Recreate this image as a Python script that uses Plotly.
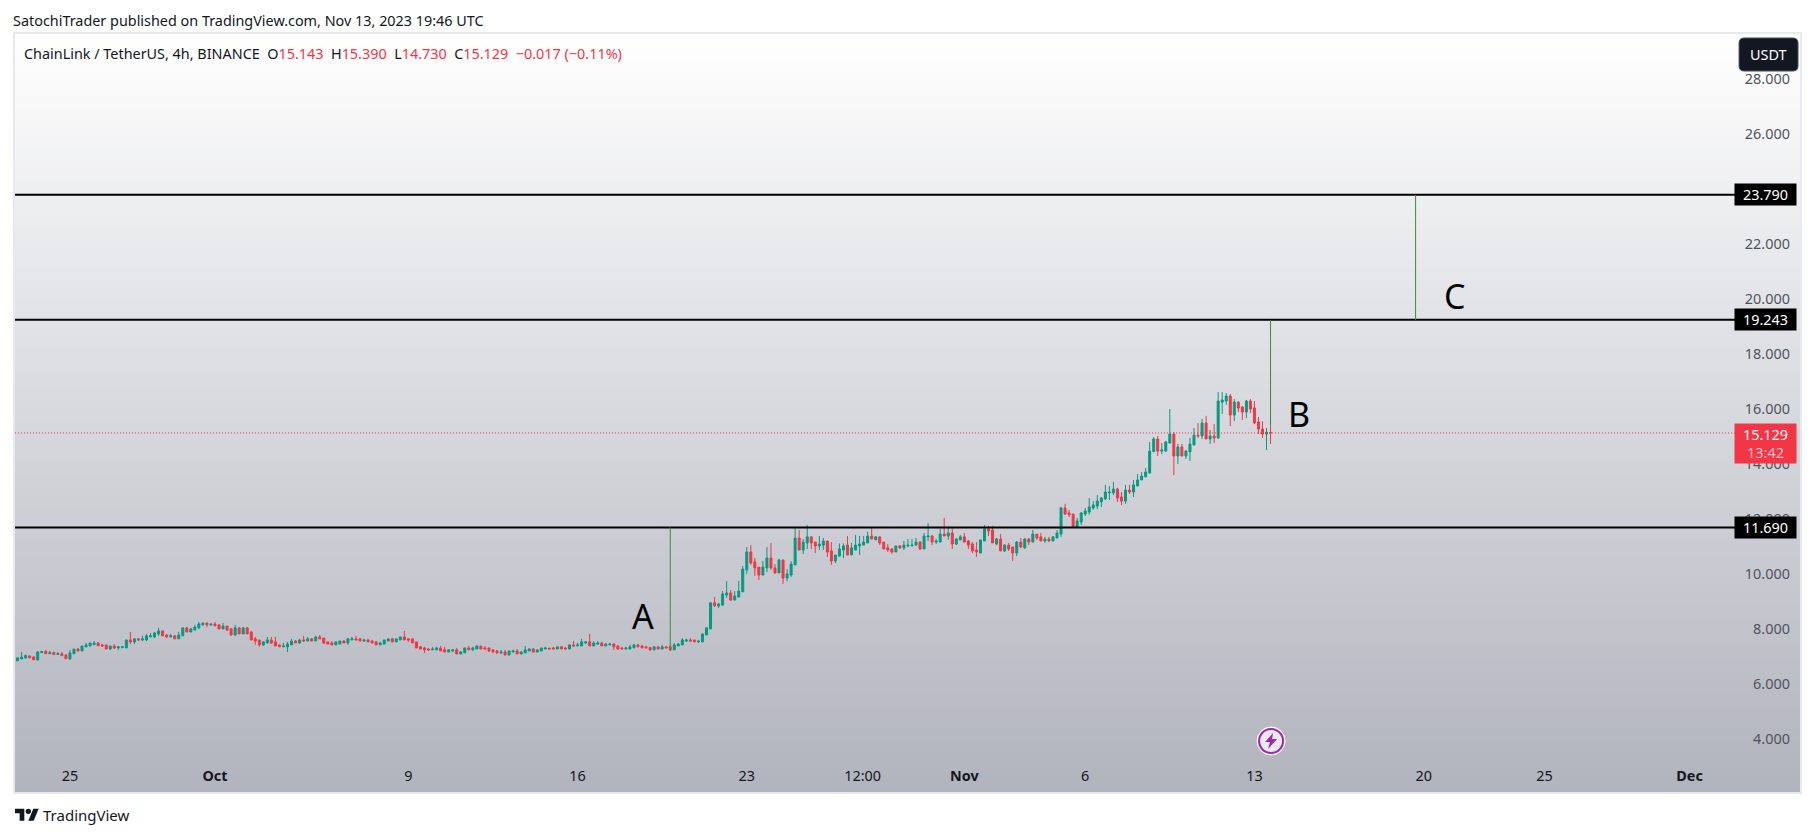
"""ChainLink / TetherUS 4h chart with A-B-C levels, TradingView look."""

import pandas as pd
import plotly.graph_objects as go

# === DATA ===
OPENS = [
    6.69,6.84,6.91,6.95,7.02,6.98,6.87,7.14,7.18,7.10,
    7.14,7.07,7.10,7.05,6.91,7.10,7.27,7.20,7.35,7.38,
    7.43,7.49,7.42,7.42,7.27,7.38,7.31,7.32,7.31,7.60,
    7.53,7.64,7.60,7.60,7.71,7.71,7.82,7.93,7.78,7.71,
    7.75,7.64,7.75,8.04,7.89,7.96,8.04,8.15,8.22,8.15,
    8.18,8.15,8.00,8.11,8.00,7.78,8.04,7.82,8.04,7.89,
    7.64,7.60,7.42,7.49,7.60,7.53,7.42,7.35,7.35,7.42,
    7.56,7.49,7.60,7.56,7.64,7.56,7.71,7.67,7.53,7.49,
    7.42,7.45,7.56,7.49,7.60,7.64,7.64,7.56,7.60,7.56,
    7.53,7.42,7.45,7.56,7.64,7.53,7.60,7.71,7.64,7.64,
    7.53,7.35,7.31,7.27,7.24,7.24,7.31,7.24,7.16,7.20,
    7.24,7.09,7.13,7.31,7.24,7.27,7.38,7.31,7.31,7.24,
    7.20,7.13,7.16,7.05,7.16,7.20,7.09,7.13,7.20,7.27,
    7.16,7.20,7.27,7.30,7.31,7.27,7.35,7.31,7.27,7.42,
    7.38,7.38,7.49,7.53,7.38,7.45,7.49,7.38,7.42,7.45,
    7.38,7.31,7.27,7.27,7.31,7.42,7.38,7.35,7.33,7.24,
    7.35,7.27,7.35,7.35,7.24,7.38,7.42,7.56,7.60,7.60,
    7.53,7.53,7.78,8.00,8.95,8.84,8.87,9.24,9.31,9.05,
    9.16,9.35,10.15,10.80,10.44,10.25,9.96,10.22,10.58,10.22,
    10.04,10.51,9.85,9.96,10.33,11.31,10.87,11.13,11.35,11.16,
    11.02,11.05,11.20,10.84,10.47,10.65,10.87,11.05,10.69,10.87,
    11.02,11.05,11.13,11.38,11.24,11.35,11.16,10.95,10.91,10.80,
    11.02,10.95,11.02,11.02,11.05,11.16,10.91,11.35,11.38,11.16,
    11.16,11.45,11.38,11.49,11.09,11.24,11.35,11.20,11.09,10.87,
    10.76,11.20,11.64,11.60,11.09,11.27,10.84,11.05,10.98,10.76,
    11.16,10.95,11.27,11.16,11.45,11.35,11.20,11.27,11.20,11.31,
    11.45,12.40,12.22,12.18,11.71,11.89,12.18,12.25,12.40,12.47,
    12.62,12.73,12.95,12.95,13.09,12.80,12.65,13.05,12.98,13.20,
    13.42,13.53,13.67,14.45,14.91,14.47,14.47,14.76,15.09,14.29,
    14.62,14.29,14.44,14.69,15.05,15.02,15.49,14.91,15.02,14.95,
    16.25,16.29,16.47,15.78,16.25,16.07,15.89,16.29,16.04,15.53,
    15.27,15.09,15.143,
]
HIGHS = [
    6.87,6.95,7.16,7.07,7.02,7.02,7.20,7.20,7.24,7.20,
    7.18,7.16,7.16,7.09,7.24,7.27,7.31,7.38,7.49,7.49,
    7.56,7.53,7.45,7.42,7.38,7.45,7.38,7.38,7.60,7.89,
    7.67,7.67,7.75,7.82,7.85,7.89,8.04,7.93,7.82,7.82,
    7.78,7.89,8.04,8.07,8.04,8.15,8.25,8.22,8.22,8.18,
    8.25,8.15,8.22,8.11,8.04,8.15,8.04,8.07,8.07,7.93,
    7.71,7.60,7.56,7.71,7.71,7.71,7.42,7.49,7.53,7.64,
    7.60,7.64,7.75,7.71,7.67,7.75,7.78,7.67,7.53,7.56,
    7.53,7.56,7.60,7.67,7.71,7.75,7.67,7.64,7.64,7.60,
    7.56,7.53,7.60,7.64,7.67,7.64,7.71,7.93,7.67,7.64,
    7.53,7.38,7.35,7.31,7.35,7.35,7.38,7.35,7.27,7.27,
    7.31,7.20,7.31,7.38,7.35,7.42,7.38,7.38,7.31,7.27,
    7.24,7.24,7.24,7.20,7.24,7.27,7.20,7.38,7.31,7.31,
    7.24,7.31,7.35,7.30,7.35,7.35,7.38,7.35,7.45,7.56,
    7.49,7.64,7.56,7.82,7.56,7.56,7.53,7.49,7.49,7.49,
    7.42,7.35,7.35,7.42,7.45,7.45,7.42,7.38,7.33,7.35,
    7.35,7.42,7.38,7.42,7.49,7.49,7.67,7.64,7.67,7.60,
    7.60,7.82,8.07,8.95,9.16,8.95,9.38,9.74,9.42,9.38,
    9.74,10.29,10.98,11.05,10.58,10.25,10.47,10.98,11.13,10.36,
    10.55,10.51,10.18,10.47,11.67,11.60,11.27,11.78,11.38,11.16,
    11.38,11.31,11.20,11.16,10.69,11.11,11.11,11.38,11.13,11.42,
    11.38,11.38,11.53,11.67,11.38,11.35,11.16,11.09,10.95,11.02,
    11.05,11.20,11.27,11.27,11.31,11.20,11.49,11.85,11.42,11.27,
    11.64,12.04,11.67,11.67,11.31,11.42,11.49,11.24,11.16,11.16,
    11.24,11.78,11.75,11.75,11.31,11.45,11.09,11.13,10.98,11.20,
    11.31,11.31,11.31,11.60,11.45,11.49,11.35,11.35,11.38,11.60,
    12.44,12.55,12.33,12.18,12.04,12.25,12.40,12.76,12.65,12.87,
    12.80,13.24,13.20,13.35,13.13,12.98,13.24,13.24,13.42,13.64,
    13.71,13.85,14.80,14.98,15.02,14.76,14.84,16.00,15.16,14.73,
    14.73,14.51,14.95,15.31,15.49,15.64,15.75,15.24,15.45,16.62,
    16.62,16.58,16.55,16.36,16.29,16.11,16.33,16.36,16.29,15.71,
    15.56,15.31,15.39,
]
LOWS = [
    6.69,6.84,6.91,6.91,6.95,6.87,6.87,7.13,7.09,7.09,
    7.05,7.05,7.02,6.91,6.87,7.10,7.19,7.20,7.34,7.38,
    7.42,7.38,7.35,7.27,7.24,7.27,7.24,7.31,7.31,7.45,
    7.45,7.56,7.56,7.56,7.71,7.67,7.75,7.75,7.67,7.71,
    7.64,7.64,7.75,7.89,7.89,7.96,8.00,8.11,8.07,8.11,
    8.11,8.00,8.00,7.93,7.75,7.75,7.82,7.82,7.82,7.60,
    7.42,7.35,7.38,7.49,7.45,7.38,7.35,7.35,7.16,7.42,
    7.49,7.45,7.53,7.56,7.56,7.56,7.64,7.45,7.45,7.42,
    7.42,7.45,7.49,7.42,7.60,7.60,7.56,7.53,7.53,7.49,
    7.42,7.42,7.45,7.56,7.53,7.53,7.60,7.60,7.53,7.49,
    7.31,7.27,7.13,7.20,7.24,7.24,7.20,7.16,7.16,7.16,
    7.09,7.09,7.13,7.24,7.20,7.27,7.27,7.27,7.16,7.16,
    7.09,7.09,7.05,7.05,7.16,7.09,7.09,7.13,7.20,7.16,
    7.16,7.20,7.27,7.27,7.27,7.27,7.27,7.27,7.27,7.35,
    7.38,7.38,7.45,7.38,7.38,7.42,7.38,7.38,7.42,7.24,
    7.24,7.27,7.27,7.27,7.31,7.35,7.31,7.31,7.20,7.24,
    7.27,7.27,7.31,7.20,7.24,7.38,7.42,7.53,7.56,7.53,
    7.49,7.53,7.78,8.00,8.80,8.76,8.84,9.13,9.02,9.05,
    9.16,9.35,10.00,10.33,9.93,9.78,9.96,10.07,10.15,10.00,
    10.04,9.64,9.74,9.89,10.33,10.87,10.73,10.91,10.91,10.76,
    10.87,10.87,10.62,10.33,10.40,10.65,10.58,10.69,10.69,10.87,
    10.69,11.05,11.13,11.27,11.24,11.05,10.91,10.80,10.73,10.80,
    10.91,10.87,10.98,11.02,11.02,10.87,10.91,11.20,11.05,11.09,
    11.16,11.38,11.24,10.91,11.05,11.24,11.16,10.91,10.76,10.62,
    10.76,11.20,11.38,11.13,11.05,10.84,10.80,10.84,10.47,10.65,
    10.95,10.91,11.05,11.16,11.24,11.20,11.13,11.16,11.20,11.31,
    11.35,12.15,12.07,11.67,11.71,11.78,12.11,12.15,12.33,12.36,
    12.44,12.69,12.69,12.87,12.62,12.51,12.55,12.91,12.80,13.20,
    13.42,13.53,13.67,14.45,14.29,14.36,14.44,14.76,13.60,14.00,
    14.29,14.18,14.11,14.69,14.95,14.91,14.91,14.73,14.76,14.91,
    15.82,16.15,15.38,15.56,15.89,15.60,15.67,15.85,15.45,15.09,
    14.95,14.51,14.73,
]
CLOSES = [
    6.87,6.95,6.98,7.03,6.95,6.88,7.16,7.18,7.10,7.14,
    7.07,7.10,7.03,6.92,7.13,7.27,7.20,7.38,7.42,7.49,
    7.49,7.39,7.38,7.27,7.38,7.31,7.35,7.35,7.60,7.53,
    7.64,7.60,7.64,7.75,7.75,7.85,7.93,7.75,7.71,7.75,
    7.64,7.78,8.04,7.89,8.00,8.07,8.18,8.22,8.15,8.18,
    8.11,8.00,8.11,7.96,7.78,8.04,7.82,8.04,7.82,7.60,
    7.56,7.42,7.53,7.60,7.49,7.38,7.35,7.38,7.45,7.56,
    7.49,7.60,7.56,7.64,7.56,7.71,7.64,7.49,7.45,7.42,
    7.53,7.56,7.49,7.64,7.64,7.60,7.56,7.60,7.53,7.49,
    7.42,7.49,7.60,7.64,7.53,7.64,7.71,7.60,7.60,7.49,
    7.31,7.27,7.24,7.24,7.27,7.31,7.20,7.16,7.24,7.24,
    7.09,7.16,7.31,7.24,7.31,7.38,7.27,7.27,7.20,7.16,
    7.13,7.16,7.05,7.20,7.20,7.09,7.16,7.24,7.27,7.16,
    7.24,7.31,7.31,7.27,7.27,7.35,7.27,7.27,7.42,7.38,
    7.42,7.53,7.53,7.38,7.49,7.49,7.38,7.45,7.45,7.35,
    7.27,7.27,7.31,7.35,7.42,7.35,7.31,7.31,7.24,7.35,
    7.27,7.35,7.31,7.24,7.42,7.45,7.60,7.60,7.56,7.53,
    7.56,7.82,8.04,8.95,8.84,8.91,9.27,9.31,9.05,9.20,
    9.38,10.18,10.80,10.40,10.22,9.96,10.25,10.58,10.22,10.04,
    10.51,9.85,10.00,10.36,11.31,10.87,11.16,11.35,11.13,11.02,
    11.09,11.20,10.80,10.47,10.69,10.91,11.02,10.69,10.95,11.05,
    11.09,11.16,11.38,11.27,11.35,11.13,10.91,10.87,10.80,11.02,
    10.95,11.05,11.05,11.05,11.16,10.91,11.38,11.38,11.16,11.20,
    11.45,11.38,11.49,11.09,11.27,11.35,11.16,11.05,10.84,10.80,
    11.24,11.64,11.56,11.13,11.27,10.84,11.05,10.91,10.76,11.16,
    10.98,11.27,11.16,11.45,11.31,11.20,11.27,11.20,11.35,11.49,
    12.40,12.18,12.15,11.71,11.93,12.22,12.29,12.44,12.51,12.65,
    12.76,12.98,12.98,13.09,12.76,12.65,13.05,12.98,13.24,13.42,
    13.56,13.71,14.47,14.91,14.47,14.51,14.80,15.09,14.29,14.62,
    14.29,14.47,14.73,15.05,15.02,15.49,14.91,15.02,14.95,16.29,
    16.33,16.47,15.78,16.25,16.04,15.89,16.29,16.00,15.49,15.27,
    15.09,15.16,15.129,
]
assert len(OPENS) == len(HIGHS) == len(LOWS) == len(CLOSES) == 313

LAST_BAR = "2023-11-13 16:00"
X_RANGE = ["2023-09-22 17:27", "2023-12-05 13:40"]
Y_RANGE = [2.07, 29.64]

# Уровни A, B, C
LEVELS = [23.790, 19.243, 11.690]
LEVEL_END = "2023-12-03 00:00"
LAST_PRICE = 15.129
LEG_DATES = ["2023-10-19 20:00", "2023-11-13 16:00", "2023-11-19 16:00"]
LEG_FROM = [7.20, 15.39, 19.243]
LEG_TO = [11.690, 19.243, 23.790]
LETTERS = ["A", "B", "C"]
LETTER_X = ["2023-10-18 17:00", "2023-11-14 20:00", "2023-11-21 07:30"]
LETTER_Y = [8.47, 15.82, 20.11]

PRICE_TICKS = [4, 6, 8, 10, 12, 14, 16, 18, 20, 22, 24, 26, 28]
DATE_TICKS = ["2023-09-25", "2023-10-01", "2023-10-09", "2023-10-16", "2023-10-23",
              "2023-10-27 19:00", "2023-11-01", "2023-11-06", "2023-11-13",
              "2023-11-20", "2023-11-25", "2023-12-01"]
DATE_LABELS = ["25", "<b>Oct</b>", "9", "16", "23", "12:00", "<b>Nov</b>", "6", "13",
               "20", "25", "<b>Dec</b>"]

# === ОФОРМЛЕНИЕ ===
UP = "#089981"
DOWN = "#f23645"
LEG_COLOR = "#388e3c"
INK = "#131722"
FONT = "Noto Sans"
FONT_SIZE = 14.4
# Страница сдвигает график на 8px (отступ body), поэтому размеры меньше окна
PAGE_MARGIN = 8
WIDTH, HEIGHT = 1814 - 2 * PAGE_MARGIN, 836 - 2 * PAGE_MARGIN
LEFT, RIGHT, TOP, BOTTOM = 13, 1800, 34, 792


def px(x):
    return (x - LEFT) / (RIGHT - LEFT)


def py(y):
    return (BOTTOM - y) / (BOTTOM - TOP)


def poly(points):
    return "M" + " L".join(f"{px(x):.5f},{py(y):.5f}" for x, y in points) + " Z"


dates = pd.date_range(end=LAST_BAR, periods=len(OPENS), freq="4h")

fig = go.Figure()

# Фон: вертикальный градиент
fig.add_trace(go.Heatmap(
    x=X_RANGE, y=Y_RANGE, z=[[1, 1], [0, 0]],
    zsmooth="best", zmin=0, zmax=1, showscale=False, hoverinfo="skip",
    colorscale=[[0, "#ffffff"], [1, "#b1b3bd"]],
))

fig.add_trace(go.Candlestick(
    x=dates, open=OPENS, high=HIGHS, low=LOWS, close=CLOSES,
    increasing=dict(line=dict(color=UP, width=1), fillcolor=UP),
    decreasing=dict(line=dict(color=DOWN, width=1), fillcolor=DOWN),
    whiskerwidth=0, showlegend=False,
))

for level in LEVELS:
    fig.add_trace(go.Scatter(
        x=[X_RANGE[0], LEVEL_END], y=[level, level], mode="lines",
        line=dict(color="black", width=2), showlegend=False, hoverinfo="skip",
    ))

fig.add_trace(go.Scatter(
    x=[X_RANGE[0], LEVEL_END], y=[LAST_PRICE, LAST_PRICE], mode="lines",
    line=dict(color=DOWN, width=1, dash="1px 2px"), showlegend=False, hoverinfo="skip",
))

for day, y0, y1 in zip(LEG_DATES, LEG_FROM, LEG_TO):
    fig.add_trace(go.Scatter(
        x=[day, day], y=[y0, y1], mode="lines",
        line=dict(color=LEG_COLOR, width=1), showlegend=False, hoverinfo="skip",
    ))

annotations = []

# Буквы A, B, C
for letter, x, y in zip(LETTERS, LETTER_X, LETTER_Y):
    annotations.append(dict(
        text=letter, x=x, y=y, xref="x", yref="y", showarrow=False,
        xanchor="center", yanchor="middle", font=dict(family=FONT, size=34, color="black"),
    ))

# Подписи уровней на шкале
for level in LEVELS:
    annotations.append(dict(
        text=f"{level:.3f}", x=px(1734), y=level, xref="paper", yref="y", showarrow=False,
        xanchor="left", yanchor="middle", width=61, height=21, align="center",
        bgcolor="black", borderpad=0, font=dict(family=FONT, size=FONT_SIZE, color="white"),
    ))

annotations.append(dict(
    text=f"{LAST_PRICE:.3f}<br><span style='color:#ffc4ca'>13:42</span>",
    x=px(1734), y=py(423), xref="paper", yref="paper", showarrow=False,
    xanchor="left", yanchor="top", width=61, height=39, align="center",
    bgcolor=DOWN, borderpad=0, font=dict(family=FONT, size=FONT_SIZE, color="white"),
))

annotations.append(dict(
    text="USDT", x=px(1768.5), y=py(54.5), xref="paper", yref="paper", showarrow=False,
    xanchor="center", yanchor="middle", font=dict(family=FONT, size=FONT_SIZE, color="white"),
))

# Заголовки и логотип
annotations.append(dict(
    text="SatochiTrader published on TradingView.com, Nov 13, 2023 19:46 UTC",
    x=px(9), y=py(20), xref="paper", yref="paper", showarrow=False,
    xanchor="left", yanchor="middle", font=dict(family=FONT, size=FONT_SIZE, color=INK),
))
red = "<span style='color:#f23645'>"
gap = "&nbsp;&nbsp;"
annotations.append(dict(
    text=(f"ChainLink / TetherUS, 4h, BINANCE{gap}O{red}15.143</span>{gap}H{red}15.390</span>"
          f"{gap}L{red}14.730</span>{gap}C{red}15.129</span>{gap}{red}−0.017 (−0.11%)</span>"),
    x=px(20), y=py(53.5), xref="paper", yref="paper", showarrow=False,
    xanchor="left", yanchor="middle", font=dict(family=FONT, size=FONT_SIZE, color=INK),
))
annotations.append(dict(
    text="TradingView", x=px(39), y=py(815), xref="paper", yref="paper", showarrow=False,
    xanchor="left", yanchor="middle", font=dict(family=FONT, size=15, color=INK),
))

shapes = []

# Кнопка USDT со скруглёнными углами
x0, x1, y0, y1, r = 1739, 1798, 38, 71, 5
shapes.append(dict(
    type="path", xref="paper", yref="paper", fillcolor=INK, line=dict(color="#4a4e5a", width=1),
    path=(f"M{px(x0 + r)},{py(y0)} L{px(x1 - r)},{py(y0)} Q{px(x1)},{py(y0)} {px(x1)},{py(y0 + r)}"
          f" L{px(x1)},{py(y1 - r)} Q{px(x1)},{py(y1)} {px(x1 - r)},{py(y1)}"
          f" L{px(x0 + r)},{py(y1)} Q{px(x0)},{py(y1)} {px(x0)},{py(y1 - r)}"
          f" L{px(x0)},{py(y0 + r)} Q{px(x0)},{py(y0)} {px(x0 + r)},{py(y0)} Z"),
))

# Значок-молния
cx, cy = 1270.5, 741
shapes.append(dict(type="circle", xref="paper", yref="paper", fillcolor="#e9e9ee",
                   line=dict(color="white", width=1),
                   x0=px(cx - 14), x1=px(cx + 14), y0=py(cy + 14), y1=py(cy - 14)))
shapes.append(dict(type="circle", xref="paper", yref="paper", fillcolor="rgba(0,0,0,0)",
                   line=dict(color="#9c27b0", width=2),
                   x0=px(cx - 12), x1=px(cx + 12), y0=py(cy + 12), y1=py(cy - 12)))
shapes.append(dict(type="path", xref="paper", yref="paper", fillcolor="#9c27b0", line_width=0,
                   path=poly([(cx + 2, cy - 8), (cx - 6, cy + 1), (cx - 1, cy + 1), (cx - 3, cy + 8),
                              (cx + 6, cy - 2), (cx + 1, cy - 2)])))

# Логотип TradingView
sc, lx, ly = 0.667, 13, 806
logo = [[(14, 22), (7, 22), (7, 11), (0, 11), (0, 4), (14, 4)],
        [(28, 22), (20, 22), (27.5, 4), (35.5, 4)]]
for part in logo:
    shapes.append(dict(type="path", xref="paper", yref="paper", fillcolor=INK, line_width=0,
                       path=poly([(lx + a * sc, ly + b * sc) for a, b in part])))
shapes.append(dict(type="circle", xref="paper", yref="paper", fillcolor=INK, line_width=0,
                   x0=px(lx + 16 * sc), x1=px(lx + 24 * sc),
                   y0=py(ly + 12 * sc), y1=py(ly + 4 * sc)))

fig.update_layout(
    width=WIDTH, height=HEIGHT,
    margin=dict(l=LEFT - PAGE_MARGIN, r=WIDTH + PAGE_MARGIN - RIGHT,
                t=TOP - PAGE_MARGIN, b=HEIGHT + PAGE_MARGIN - BOTTOM, pad=0),
    paper_bgcolor="white", plot_bgcolor="white",
    showlegend=False, hovermode=False,
    font=dict(family=FONT, size=FONT_SIZE, color=INK),
    annotations=annotations, shapes=shapes,
    xaxis=dict(
        type="date", range=X_RANGE, rangeslider_visible=False, showgrid=False, zeroline=False,
        tickmode="array", tickvals=DATE_TICKS, ticktext=DATE_LABELS, ticks="",
        ticklabelposition="inside", ticklabelstandoff=8,
        tickfont=dict(family=FONT, size=FONT_SIZE, color=INK),
        showline=True, mirror=True, linecolor="#e8e9f0", linewidth=2,
    ),
    yaxis=dict(
        side="right", range=Y_RANGE, showgrid=False, zeroline=False,
        tickmode="array", tickvals=PRICE_TICKS, ticktext=[f"{v:.3f}" for v in PRICE_TICKS],
        ticks="", ticklabelposition="inside", ticklabelstandoff=10,
        tickfont=dict(family=FONT, size=FONT_SIZE, color="#50535e"),
        showline=True, mirror=True, linecolor="#e8e9f0", linewidth=2,
    ),
)

fig.write_html("out.html")
